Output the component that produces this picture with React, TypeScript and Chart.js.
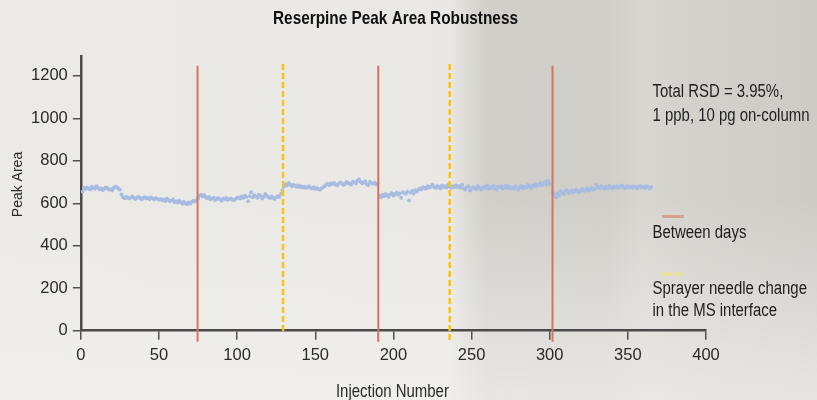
import { useEffect, useRef } from "react";
import { Chart, registerables } from "chart.js";

Chart.register(...registerables);

const FONT = "'Liberation Sans', Arial, sans-serif";
const NARROW = 0.83; // Arial-Narrow-like horizontal compression for annotation text

const chartTitle = "Reserpine Peak Area Robustness";
const xAxisTitle = "Injection Number";
const yAxisTitle = "Peak Area";
const noteLines = ["Total RSD = 3.95%,", "1 ppb, 10 pg on-column"];
const dayLegendLines = ["Between days"];
const needleLegendLines = ["Sprayer needle change", "in the MS interface"];

const xTicks = [0, 50, 100, 150, 200, 250, 300, 350, 400];
const yTicks = [0, 200, 400, 600, 800, 1000, 1200];

// injection numbers at which the vertical markers sit
const dayBreaks = [74.7, 190.3, 301.8];
const needleChanges = [129.4, 236];
const dayBreakSpan = [1247, -52];
const needleSpans = [
  [1256, -14],
  [1256, -55],
];

// peak areas, one per injection (injection 1 ...)
const day1 = [
  655, 672, 668, 675, 670, 665, 678, 672, 668, 680,
  674, 666, 670, 662, 668, 675, 671, 664, 667, 660,
  672, 678, 676, 670, 664,
  642, 628, 624, 630, 626, 622, 628, 632, 625, 620,
  627, 630, 624, 618, 626, 629, 622, 625, 620, 627,
  623, 618, 624, 621, 616,
  620, 614, 618, 611, 622, 615, 609, 612, 618, 606,
  610, 603, 612, 605, 598, 608, 600, 595, 604, 598,
  606, 612, 608, 615, 622,
];
const day2 = [
  636, 640, 632, 638, 628, 624, 630, 618, 622, 626,
  615, 620, 624, 618, 612, 622, 619, 625, 616, 620,
  623, 617, 614, 621, 626,
  628, 622, 632, 626, 636, 630, 610, 634, 652, 628,
  638, 632, 626, 640, 635, 622, 630, 644, 636, 628,
  624, 632, 626, 620, 628, 634, 630, 645,
  662, 678, 690, 684, 696, 688, 680, 686, 682, 678,
  684, 676, 680, 674, 678, 672, 676, 680, 674, 670,
  676, 668, 672, 666, 664, 670, 675, 680, 688, 692,
  686, 694,
  690, 696, 688, 684, 692, 698, 694, 686, 690, 700,
  696, 692, 688, 702, 698, 694, 706, 712, 700, 694,
  698, 704, 690, 686, 700, 696, 692, 698, 688, 694,
];
const day3 = [
  636, 628, 640, 632, 644, 638, 630, 642, 648, 636,
  644, 650, 640, 646, 626, 652, 648, 644, 655, 614,
  650, 658, 646, 662, 655,
  664, 670, 666, 676, 672, 668, 680, 674, 678, 688,
  676, 672, 682, 678, 670, 684, 676, 680, 674, 686,
  678, 672, 680, 676, 684,
  676, 680, 672, 688, 670, 664, 676, 680, 660, 668,
  676, 672, 666, 680, 674, 664, 670, 678, 672, 684,
  668, 676, 672, 682, 670, 664, 678, 674, 680, 668,
  676, 684, 672, 678, 670,
  674, 668, 680, 672, 664, 676, 682, 670, 678, 674,
  686, 680, 672, 684, 678, 690, 682, 688, 696, 684,
  692, 700, 688, 706, 696, 690,
];
const day4 = [
  652, 640, 628, 646, 636, 658, 650, 644, 656, 662,
  648, 654, 660, 650, 656, 664, 658, 652, 660, 666,
  658, 662, 670, 660, 666, 672, 664, 668, 686,
  676, 670, 680, 674, 668, 678, 672, 682, 676, 670,
  678, 674, 680, 672, 676, 684, 678, 670, 676, 682,
  674, 678, 672, 680, 676, 670, 678, 682, 674, 678,
  672, 680, 676, 670, 676,
];

const peakAreas = [...day1, ...day2, ...day3, ...day4];

function narrowText(
  ctx: CanvasRenderingContext2D,
  text: string,
  x: number,
  y: number,
  font: string,
  align: CanvasTextAlign
) {
  ctx.save();
  ctx.font = font;
  ctx.textAlign = align;
  ctx.textBaseline = "middle";
  ctx.translate(x, y);
  ctx.scale(NARROW, 1);
  ctx.fillText(text, 0, 0);
  ctx.restore();
}

const textPlugin = {
  id: "texts",
  afterDraw(chart: any) {
    const ctx = chart.ctx as CanvasRenderingContext2D;
    const area = chart.chartArea;
    ctx.save();
    // title
    ctx.fillStyle = "#111";
    narrowText(ctx, chartTitle, 395.5, 18.5, `bold 18.5px ${FONT}`, "center");
    // x axis title
    ctx.fillStyle = "#2a2a2a";
    narrowText(ctx, xAxisTitle, (area.left + area.right) / 2 - 1, 392, `18px ${FONT}`, "center");
    // y axis title (regular width)
    ctx.save();
    ctx.translate(18, 184.5);
    ctx.rotate(-Math.PI / 2);
    ctx.font = `14px ${FONT}`;
    ctx.textAlign = "center";
    ctx.textBaseline = "middle";
    ctx.fillText(yAxisTitle, 0, 0);
    ctx.restore();
    // notes and legend
    ctx.fillStyle = "#1e1e1e";
    const tx = 652.5;
    const f = `18px ${FONT}`;
    noteLines.forEach((t, i) => narrowText(ctx, t, tx, 92.5 + i * 24, f, "left"));
    dayLegendLines.forEach((t, i) => narrowText(ctx, t, tx, 233.5 + i * 22, f, "left"));
    needleLegendLines.forEach((t, i) => narrowText(ctx, t, tx, 289.5 + i * 21.5, f, "left"));
    // legend samples
    ctx.lineWidth = 3;
    ctx.strokeStyle = "rgba(214, 125, 105, 0.6)";
    ctx.beginPath();
    ctx.moveTo(662, 216.5);
    ctx.lineTo(684, 216.5);
    ctx.stroke();
    ctx.strokeStyle = "rgba(245, 225, 120, 0.75)";
    ctx.setLineDash([9, 3]);
    ctx.beginPath();
    ctx.moveTo(662, 274);
    ctx.lineTo(684, 274);
    ctx.stroke();
    ctx.restore();
  },
};

export default function App() {
  const ref = useRef<HTMLCanvasElement | null>(null);

  useEffect(() => {
    if (!ref.current) return;
    const points = peakAreas.map((v, i) => ({ x: i + 1, y: v }));
    const dayLines = dayBreaks.map((x) => ({
      type: "line" as const,
      data: dayBreakSpan.map((y) => ({ x, y })),
      borderColor: "#d9735d",
      borderWidth: 2,
      pointRadius: 0,
      showLine: true,
      clip: false as const,
      order: 0,
    }));
    const needleLines = needleChanges.map((x, k) => ({
      type: "line" as const,
      data: needleSpans[k].map((y) => ({ x, y })),
      borderColor: "#f8c21c",
      borderWidth: 2.5,
      borderDash: [6, 3],
      pointRadius: 0,
      showLine: true,
      clip: false as const,
      order: 0,
    }));

    const chart = new Chart(ref.current, {
      type: "scatter",
      data: {
        datasets: [
          {
            label: "Peak Area",
            data: points,
            backgroundColor: "#a7bce0",
            borderWidth: 0,
            pointRadius: 1.9,
            pointHoverRadius: 1.9,
            order: 1,
          } as any,
          ...dayLines,
          ...needleLines,
        ],
      },
      options: {
        animation: false,
        responsive: true,
        maintainAspectRatio: false,
        events: [],
        layout: { padding: { left: 0, right: 111, top: 56.7, bottom: 0 } },
        plugins: {
          legend: { display: false },
          tooltip: { enabled: false },
          title: { display: false },
        },
        scales: {
          x: {
            type: "linear",
            min: 0,
            max: 400,
            afterBuildTicks: (s: any) => {
              s.ticks = xTicks.map((v) => ({ value: v }));
            },
            afterFit: (s: any) => {
              s.height = 69.3;
            },
            ticks: {
              color: "#2a2a2a",
              font: { family: FONT, size: 16.5 },
              padding: 6,
              maxRotation: 0,
              callback: (v: any) => String(v),
            },
            grid: {
              display: true,
              drawOnChartArea: false,
              drawTicks: true,
              tickLength: 9,
              color: "#505050",
              lineWidth: 1.5,
            },
            border: { display: true, color: "#4a4a4a", width: 2.5 },
            title: { display: false },
          },
          y: {
            type: "linear",
            min: 0,
            max: 1290,
            afterBuildTicks: (s: any) => {
              s.ticks = yTicks.map((v) => ({ value: v }));
            },
            afterFit: (s: any) => {
              s.width = 80.8;
            },
            ticks: {
              color: "#2a2a2a",
              font: { family: FONT, size: 16.5 },
              padding: 5,
              callback: (v: any) => String(v),
            },
            grid: {
              display: true,
              drawOnChartArea: false,
              drawTicks: true,
              tickLength: 8,
              color: "#505050",
              lineWidth: 1.5,
            },
            border: { display: true, color: "#4a4a4a", width: 2.5 },
            title: { display: false },
          },
        },
      },
      plugins: [textPlugin],
    } as any);

    return () => chart.destroy();
  }, []);

  return (
    <div
      style={{
        position: "fixed",
        left: 0,
        top: 0,
        width: 817,
        height: 400,
        overflow: "hidden",
        background:
          "linear-gradient(to bottom, rgba(244,243,239,0) 50%, rgba(242,241,237,0.7) 100%), " +
          "linear-gradient(to right, #ebeae6 0%, #e9e8e4 55%, #dcdbd6 57%, #d0cfca 59.5%, #cfcec9 74%, #d7d6d1 79%, #d2d1cc 85%, #cccbc6 100%)",
      }}
    >
      <canvas ref={ref} width={817} height={400} />
    </div>
  );
}
